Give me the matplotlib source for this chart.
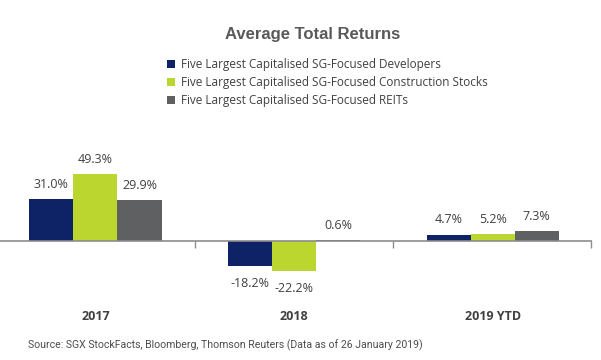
import matplotlib.pyplot as plt
import matplotlib.transforms as mtransforms
import numpy as np
from matplotlib.patches import Patch

# data
categories = ["2017", "2018", "2019 YTD"]
series_names = [
    "Five Largest Capitalised SG-Focused Developers",
    "Five Largest Capitalised SG-Focused Construction Stocks",
    "Five Largest Capitalised SG-Focused REITs",
]
developers = [31.0, -18.2, 4.7]
construction = [49.3, -22.2, 5.2]
reits = [29.9, 0.6, 7.3]
colors = ["#0E2266", "#BCD630", "#5F6062"]

W, H = 601, 360
fig = plt.figure(figsize=(W / 100, H / 100), dpi=100)

# axes placed so that zero line sits near pixel 241
ymin, ymax = -30, 55
px_per_unit = 1.355
top_px = 241 - ymax * px_per_unit
bot_px = 241 - ymin * px_per_unit
ax = fig.add_axes([0, 1 - bot_px / H, 592 / W, (bot_px - top_px) / H])
ax.set_xlim(-0.48, 2.5)
ax.set_ylim(ymin, ymax)

x = np.arange(len(categories))
bw = 0.222
label_color = "#404040"
for i, (vals, col) in enumerate(zip([developers, construction, reits], colors)):
    pos = x + (i - 1) * bw
    ax.bar(pos, vals, width=bw, color=col, linewidth=0)
    for xp, v in zip(pos, vals):
        off = 6 if v >= 0 else -8
        va = "bottom" if v >= 0 else "top"
        ax.annotate(f"{v:.1f}%", (xp, v), xytext=(0, off),
                    textcoords="offset points", ha="center", va=va,
                    fontsize=9, color=label_color, family="Open Sans")

ax.axhline(0, color="#8C8C8C", linewidth=1.2)
for s in ax.spines.values():
    s.set_visible(False)
ax.set_yticks([])
ax.set_xticks([0.5, 1.5, 2.495])
ax.set_xticklabels([])
ax.tick_params(axis="x", length=5, width=1, color="#8C8C8C", direction="out", pad=0)
# move ticks to zero line
ax.spines["bottom"].set_position(("data", 0))

trans = mtransforms.blended_transform_factory(ax.transData, fig.transFigure)
for xp, c in zip(x, categories):
    ax.text(xp, 1 - 316 / H, c, transform=trans, ha="center", va="center",
            fontsize=9, fontweight="bold", color="#404040", family="Open Sans")

fig.text(313 / W, 1 - 35 / H, "Average Total Returns", ha="center", va="center",
         fontsize=12, fontweight="bold", color="#595959", family="Liberation Sans")

handles = [Patch(facecolor=c, edgecolor="none") for c in colors]
fig.legend(handles, series_names, loc="upper left",
           bbox_to_anchor=(167 / W, 1 - 58 / H), frameon=False,
           handlelength=0.65, handleheight=0.65, handletextpad=0.5,
           labelspacing=0.42, borderpad=0, borderaxespad=0,
           prop={"family": "Open Sans", "size": 8.5}, labelcolor="#404040")

fig.text(28 / W, 1 - 345 / H,
         "Source: SGX StockFacts, Bloomberg, Thomson Reuters (Data as of 26 January 2019)",
         ha="left", va="center", fontsize=7.6, color="#4D4D4D", family="Roboto")

fig.savefig("out.png", dpi=100)
